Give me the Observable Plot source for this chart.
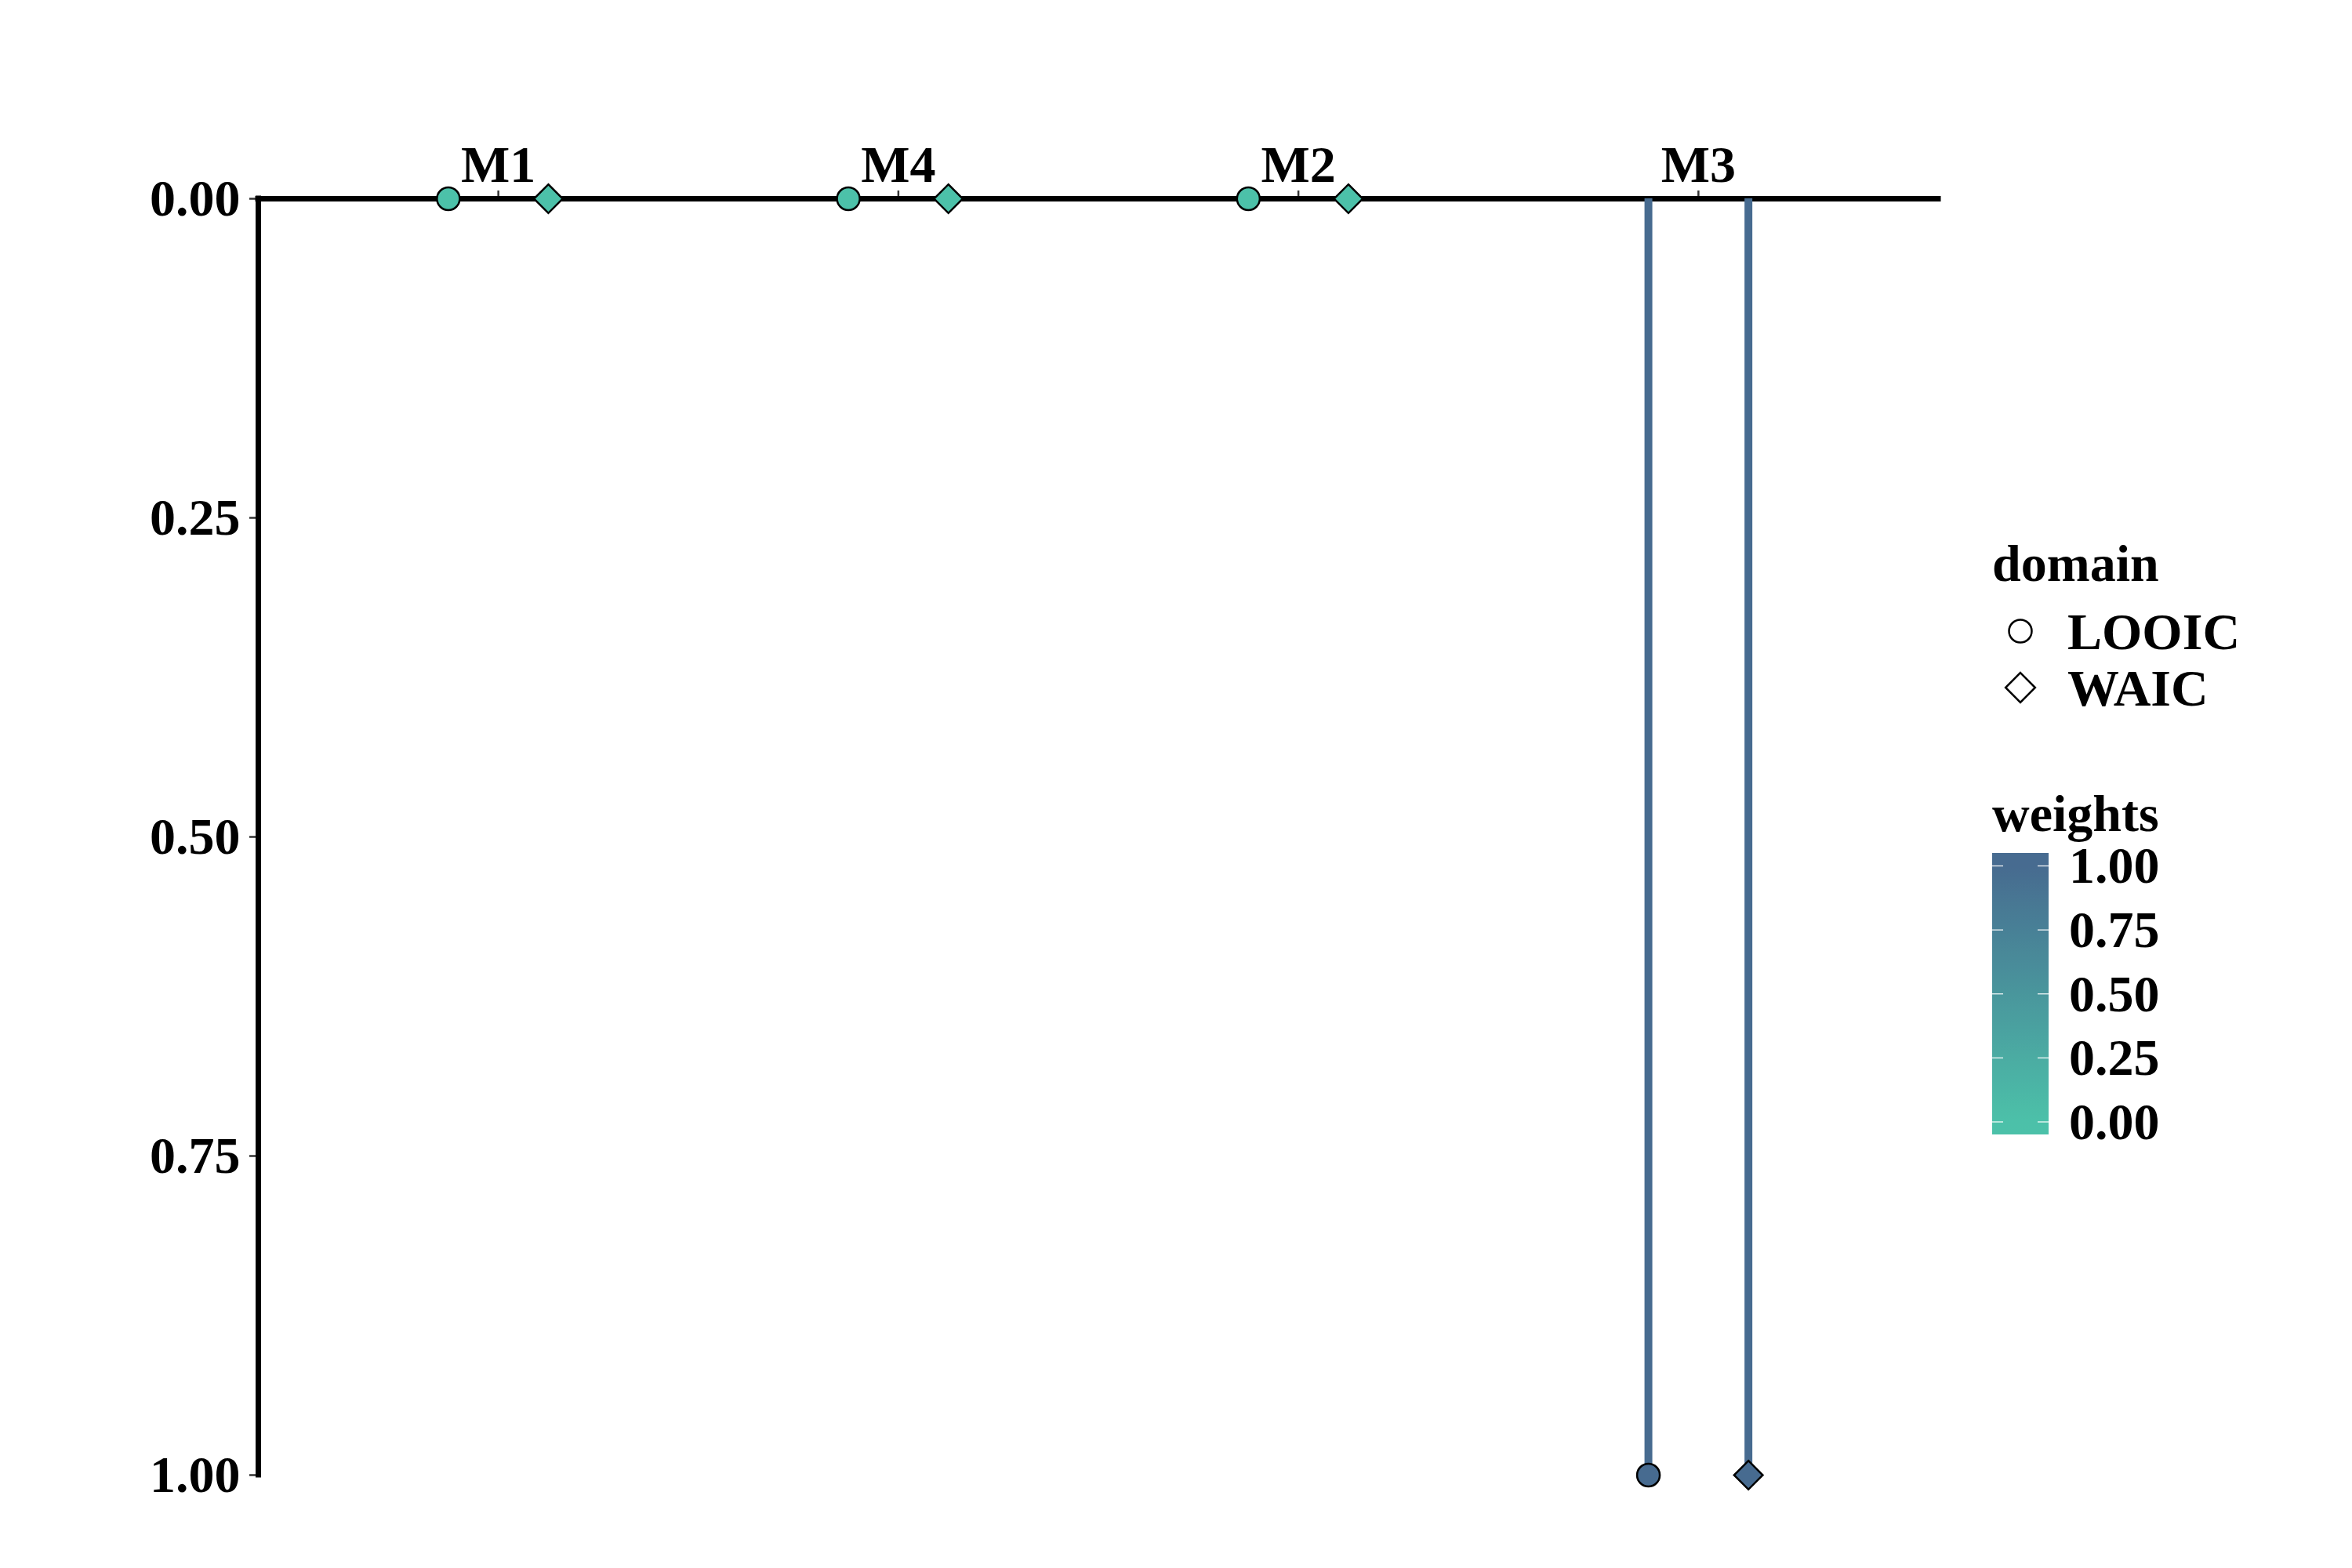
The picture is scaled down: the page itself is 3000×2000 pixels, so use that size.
<!DOCTYPE html>
<html>
<head>
<meta charset="utf-8">
<script src="https://cdn.jsdelivr.net/npm/d3@7"></script>
<script src="https://cdn.jsdelivr.net/npm/@observablehq/plot@0.6"></script>
<style>
  html, body { margin: 0; padding: 0; background: #ffffff; }
  #chart { width: 3000px; height: 2000px; position: relative; }
  #chart svg { display: block; }
</style>
</head>
<body>
<div id="chart"></div>
<script>
// ---- data ----
const models = ["M1", "M4", "M2", "M3"];
const domains = ["LOOIC", "WAIC"];
const weightsLOOIC = [0, 0, 0, 1];
const weightsWAIC = [0, 0, 0, 1];
const yTicks = [0, 0.25, 0.5, 0.75, 1];
const weightTicks = [0, 0.25, 0.5, 0.75, 1];

// ---- styling ----
const lowColor = "#4CC1A9";
const highColor = "#476B90";
const fontFamily = "'Liberation Serif', 'Times New Roman', serif";
const fontSize = 66;
const dodgeWidth = 0.25;   // position_dodge width (in x units)
const expand = 0.6;        // discrete axis expansion

// build table (ggplot-like dodge of the two domains inside each model slot)
const rows = [];
models.forEach((m, i) => {
  domains.forEach((d, j) => {
    const w = j === 0 ? weightsLOOIC[i] : weightsWAIC[i];
    rows.push({
      model: m,
      domain: d,
      weight: w,
      xpos: (i + 1) + (j === 0 ? -dodgeWidth / 2 : dodgeWidth / 2)
    });
  });
});
const xMin = 1 - expand, xMax = models.length + expand;

const plot = Plot.plot({
  width: 3000,
  height: 2000,
  marginLeft: 329,
  marginRight: 528,
  marginTop: 253,
  marginBottom: 119,
  style: {background: "#ffffff", color: "black", fontFamily, fontWeight: "bold", fontSize: fontSize + "px"},
  x: {type: "linear", domain: [xMin, xMax], axis: null},
  y: {domain: [0, 1], reverse: true, axis: null},
  color: {type: "linear", domain: [0, 1], range: [lowColor, highColor]},
  marks: [
    Plot.axisX({
      anchor: "top",
      ticks: models.map((m, i) => i + 1),
      tickFormat: v => models[v - 1],
      tickSize: 11,
      tickPadding: 11,
      stroke: "#333333",
      strokeWidth: 2.5,
      fill: "black",
      fontSize: fontSize,
      fontWeight: "bold",
      label: null
    }),
    Plot.axisY({
      anchor: "left",
      ticks: yTicks,
      tickFormat: d3.format(".2f"),
      tickSize: 11,
      tickPadding: 12,
      stroke: "#333333",
      strokeWidth: 2.5,
      fill: "black",
      fontSize: fontSize,
      fontWeight: "bold",
      label: null
    }),
    Plot.ruleY([0], {stroke: "black", strokeWidth: 7, strokeLinecap: "square"}),
    Plot.ruleX([xMin], {y1: 0, y2: 1, stroke: "black", strokeWidth: 7, strokeLinecap: "square"}),
    Plot.ruleX(rows, {x: "xpos", y1: 0, y2: "weight", stroke: "weight", strokeWidth: 10}),
    Plot.dot(rows.filter(d => d.domain === "LOOIC"), {
      x: "xpos", y: "weight", fill: "weight", stroke: "black", strokeWidth: 2.5, r: 14.5, symbol: "circle"
    }),
    Plot.dot(rows.filter(d => d.domain === "WAIC"), {
      x: "xpos", y: "weight", fill: "weight", stroke: "black", strokeWidth: 2.5, r: 16.5, symbol: "diamond2"
    })
  ]
});

document.getElementById("chart").appendChild(plot);

// ---- legends (drawn next to the panel) ----
const svg = d3.select(plot);
const colorScale = plot.scale("color");
const colorFn = Plot.scale({color: colorScale}).apply;
const lg = svg.append("g")
  .attr("font-family", fontFamily)
  .attr("font-weight", "bold")
  .attr("font-size", fontSize)
  .attr("text-anchor", "start")
  .attr("fill", "black");

// domain legend
const legX = 2541;
lg.append("text").attr("x", legX).attr("y", 741).attr("text-anchor", "start").text("domain");
const symGen = {
  LOOIC: d3.symbol(d3.symbolCircle, Math.PI * 14.5 * 14.5),
  WAIC: d3.symbol(d3.symbolDiamond2, Math.PI * 17 * 17)
};
domains.forEach((d, i) => {
  const cy = 805 + i * 72;
  lg.append("path")
    .attr("d", symGen[d]())
    .attr("transform", `translate(2577,${cy})`)
    .attr("fill", "none")
    .attr("stroke", "black")
    .attr("stroke-width", 2.5);
  lg.append("text").attr("x", 2637).attr("y", cy).attr("dy", "0.35em").attr("text-anchor", "start").text(d);
});

// weights colorbar
lg.append("text").attr("x", legX).attr("y", 1060).attr("text-anchor", "start").text("weights");
const barTop = 1088, barBottom = 1447, barW = 72;
const wy = d3.scaleLinear().domain([0, 1]).range([1431, 1104.5]);
const grad = svg.append("defs").append("linearGradient")
  .attr("id", "wgrad").attr("x1", 0).attr("y1", 1).attr("x2", 0).attr("y2", 0);
d3.range(0, 1.0001, 0.05).forEach(t => {
  const v = wy.invert(barBottom + t * (barTop - barBottom));
  grad.append("stop").attr("offset", t).attr("stop-color", colorFn(Math.max(0, Math.min(1, v))));
});
lg.append("rect").attr("x", legX).attr("y", barTop).attr("width", barW).attr("height", barBottom - barTop)
  .attr("fill", "url(#wgrad)");
weightTicks.forEach(v => {
  const y = wy(v);
  lg.append("line").attr("x1", legX).attr("x2", legX + 14).attr("y1", y).attr("y2", y)
    .attr("stroke", "white").attr("stroke-width", 1.2);
  lg.append("line").attr("x1", legX + barW - 14).attr("x2", legX + barW).attr("y1", y).attr("y2", y)
    .attr("stroke", "white").attr("stroke-width", 1.2);
  lg.append("text").attr("x", 2639).attr("y", y).attr("dy", "0.33em").attr("text-anchor", "start").text(d3.format(".2f")(v));
});
</script>
</body>
</html>
